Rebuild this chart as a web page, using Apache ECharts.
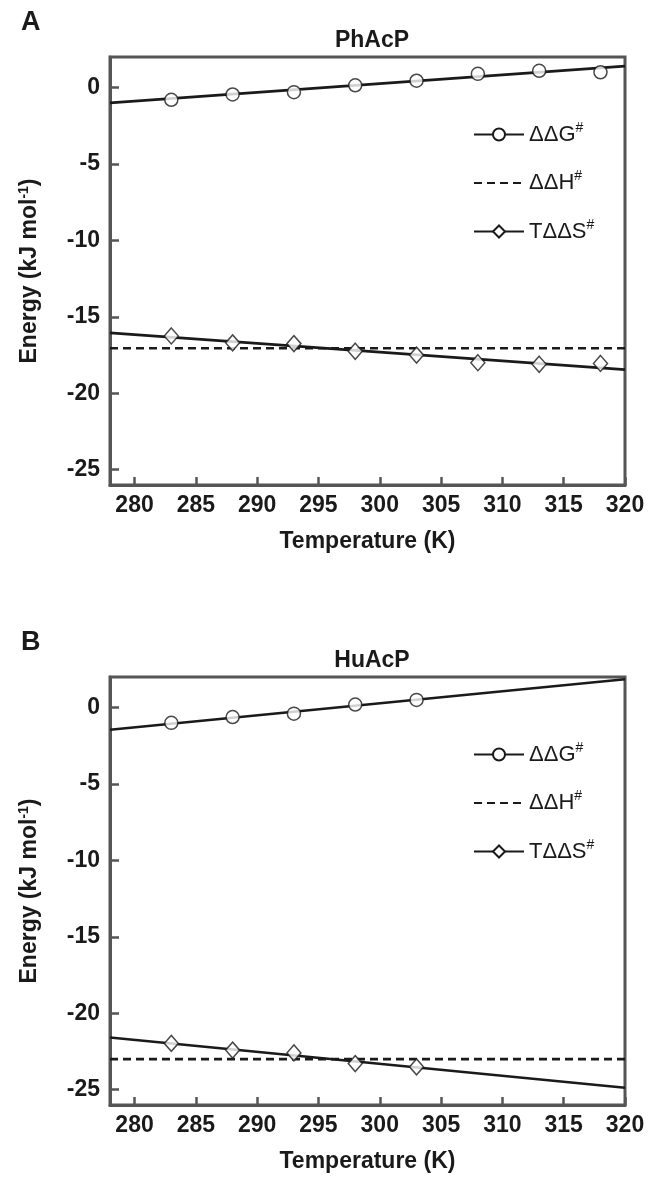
<!DOCTYPE html>
<html><head><meta charset="utf-8">
<script src="https://cdn.jsdelivr.net/npm/echarts@6/dist/echarts.min.js"></script>
<style>html,body{margin:0;padding:0;background:#fff}#c{width:649px;height:1178px}</style>
</head><body><div id="c"></div>
<script>
// ---- data ----
const temps = [283, 288, 293, 298, 303, 308, 313, 318];
const tempsB = [283, 288, 293, 298, 303];
const fitT = [278, 320];
// Panel A (PhAcP)
const ddgA = [-0.8, -0.45, -0.3, 0.15, 0.45, 0.9, 1.1, 1.0];
const tdsA = [-16.25, -16.7, -16.75, -17.25, -17.5, -18.0, -18.1, -18.05];
const ddgFitA = [-1.0, 1.4];
const tdsFitA = [-16.05, -18.45];
const ddhA = [-17.05, -17.05];
// Panel B (HuAcP)
const ddgB = [-1.0, -0.62, -0.4, 0.2, 0.5];
const tdsB = [-21.97, -22.41, -22.59, -23.29, -23.51];
const ddgFitB = [-1.45, 1.85];
const tdsFitB = [-21.58, -24.87];
const ddhB = [-23.0, -23.0];
const xTicks = [280, 285, 290, 295, 300, 305, 310, 315, 320];
const yTicks = [-25, -20, -15, -10, -5, 0];
const xMin = 278, xMax = 320, yMin = -26, yMax = 2;
const panelTitles = ['PhAcP', 'HuAcP'];
const panelLetters = ['A', 'B'];

const pair = (xs, ys) => xs.map((x, i) => [x, ys[i]]);
const SANS = '"Liberation Sans", Arial, sans-serif';
const BOLD = '"Liberation Sans", Arial, sans-serif';
const FRAME = '#555';
const INK = '#1a1a1a';

const grids = [
  {left: 110, top: 57, width: 515, height: 428, show: true, borderColor: FRAME, borderWidth: 3, backgroundColor: 'transparent'},
  {left: 110, top: 677, width: 515, height: 428, show: true, borderColor: FRAME, borderWidth: 3, backgroundColor: 'transparent'}
];
const mkX = (g) => ({
  type: 'value', gridIndex: g, min: xMin, max: xMax, position: 'bottom',
  name: 'Temperature (K)', nameLocation: 'middle', nameGap: 45,
  nameTextStyle: {fontFamily: BOLD, fontWeight: 'bold', fontSize: 23, color: INK},
  axisLine: {show: true, onZero: false, lineStyle: {color: FRAME, width: 3}}, splitLine: {show: false},
  axisTick: {show: true, inside: true, length: 8, customValues: xTicks, lineStyle: {color: FRAME, width: 2.5}},
  axisLabel: {customValues: xTicks, margin: 9, fontFamily: BOLD, fontWeight: 'bold', fontSize: 23, color: INK}
});
const mkY = (g) => ({
  type: 'value', gridIndex: g, min: yMin, max: yMax,
  name: '{t|Energy (kJ mol}{s|-1}{t|)}', nameLocation: 'middle', nameGap: 67, nameRotate: 90,
  nameTextStyle: {rich: {
    t: {fontFamily: BOLD, fontWeight: 'bold', fontSize: 23, color: INK},
    s: {fontFamily: BOLD, fontWeight: 'bold', fontSize: 14, color: INK, padding: [0, 0, 12, 0]}
  }},
  axisLine: {show: true, onZero: false, lineStyle: {color: FRAME, width: 3}}, splitLine: {show: false},
  axisTick: {show: true, inside: true, length: 9, customValues: yTicks, lineStyle: {color: FRAME, width: 2.5}},
  axisLabel: {customValues: yTicks, margin: 10, fontFamily: BOLD, fontWeight: 'bold', fontSize: 23, color: INK}
});

const lineStyle = {color: INK, width: 2.6};
const openItem = {color: '#fff', borderColor: INK, borderWidth: 1.5};
function panelSeries(g, ddg, tds, ddgFit, tdsFit, ddh, ts) {
  const sfx = g === 0 ? '' : ' ';
  return [
    {name: 'ddg' + sfx, type: 'line', xAxisIndex: g, yAxisIndex: g, data: pair(fitT, ddgFit),
     symbol: 'circle', symbolSize: 12, showSymbol: false, lineStyle, itemStyle: openItem, z: 2, silent: true},
    {name: 'ddh' + sfx, type: 'line', xAxisIndex: g, yAxisIndex: g, data: pair(fitT, ddh),
     symbol: 'none', lineStyle: {color: INK, width: 2.6, type: [8, 5]}, itemStyle: {color: INK}, z: 1, silent: true},
    {name: 'tds' + sfx, type: 'line', xAxisIndex: g, yAxisIndex: g, data: pair(fitT, tdsFit),
     symbol: 'diamond', symbolSize: [13, 13], showSymbol: false, lineStyle, itemStyle: openItem, z: 2, silent: true},
    {name: 'ddgPts' + sfx, type: 'scatter', xAxisIndex: g, yAxisIndex: g, data: pair(ts, ddg),
     symbol: 'circle', symbolSize: 13, itemStyle: openItem, z: 3, silent: true},
    {name: 'tdsPts' + sfx, type: 'scatter', xAxisIndex: g, yAxisIndex: g, data: pair(ts, tds),
     symbol: 'diamond', symbolSize: [14, 16], itemStyle: openItem, z: 3, silent: true}
  ];
}
const legendNames = {ddg: '{a|ΔΔG}{s|#}', ddh: '{a|ΔΔH}{s|#}', tds: '{a|TΔΔS}{s|#}'};
const mkLegend = (top, sfx) => ({
  orient: 'vertical', left: 468, top: top, itemWidth: 50, itemHeight: 15, itemGap: 24,
  data: [{name: 'ddg' + sfx}, {name: 'ddh' + sfx, itemStyle: {opacity: 0}}, {name: 'tds' + sfx}],
  formatter: (n) => legendNames[n.trim()],
  textStyle: {rich: {
    a: {fontFamily: SANS, fontSize: 22, color: INK},
    s: {fontFamily: SANS, fontSize: 14, color: INK, padding: [0, 0, 13, 0]}
  }},
  selectedMode: false
});

const chart = echarts.init(document.getElementById('c'), null, {renderer: 'canvas'});
chart.setOption({
  animation: false,
  backgroundColor: '#fff',
  title: [
    {text: panelLetters[0], left: 16, top: 4, textStyle: {fontFamily: SANS, fontWeight: 'bold', fontSize: 27, color: INK}},
    {text: panelTitles[0], left: 367, textAlign: 'center', top: 24, textStyle: {fontFamily: BOLD, fontWeight: 'bold', fontSize: 23, color: INK}},
    {text: panelLetters[1], left: 16, top: 624, textStyle: {fontFamily: SANS, fontWeight: 'bold', fontSize: 27, color: INK}},
    {text: panelTitles[1], left: 367, textAlign: 'center', top: 644, textStyle: {fontFamily: BOLD, fontWeight: 'bold', fontSize: 23, color: INK}}
  ],
  grid: grids,
  xAxis: [mkX(0), mkX(1)],
  yAxis: [mkY(0), mkY(1)],
  legend: [mkLegend(116, ''), mkLegend(736, ' ')],
  series: [
    ...panelSeries(0, ddgA, tdsA, ddgFitA, tdsFitA, ddhA, temps),
    ...panelSeries(1, ddgB, tdsB, ddgFitB, tdsFitB, ddhB, tempsB)
  ]
});
</script></body></html>
